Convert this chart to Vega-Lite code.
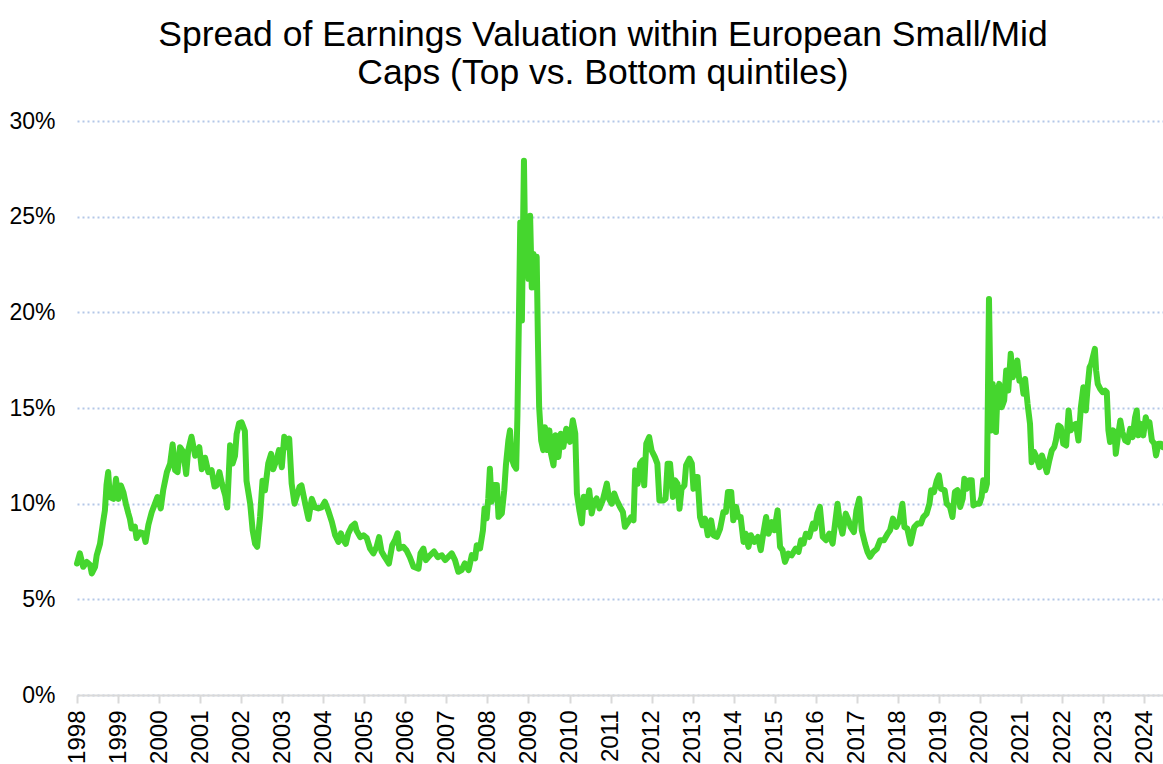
{
  "$schema": "https://vega.github.io/schema/vega-lite/v6.json",
  "width": 1086,
  "height": 574,
  "autosize": "none",
  "padding": {"left": 77, "top": 121, "right": 0, "bottom": 69},
  "background": "white",
  "title": {
    "text": ["Spread of Earnings Valuation within European Small/Mid", "Caps (Top vs. Bottom quintiles)"],
    "font": "Liberation Sans",
    "fontSize": 35.5,
    "fontWeight": "normal",
    "color": "#000000",
    "lineHeight": 38,
    "anchor": "middle",
    "dx": -17,
    "offset": 19
  },
  "data": {
    "values": [
      {"year": 1998.00, "spread": 6.87}, {"year": 1998.07, "spread": 7.4}, {"year": 1998.15, "spread": 6.7}, {"year": 1998.24, "spread": 6.95},
      {"year": 1998.32, "spread": 6.8}, {"year": 1998.36, "spread": 6.35}, {"year": 1998.44, "spread": 6.7}, {"year": 1998.48, "spread": 7.3},
      {"year": 1998.56, "spread": 7.9}, {"year": 1998.64, "spread": 9.1}, {"year": 1998.68, "spread": 9.65}, {"year": 1998.72, "spread": 11.0},
      {"year": 1998.76, "spread": 11.65}, {"year": 1998.80, "spread": 10.35}, {"year": 1998.89, "spread": 10.25}, {"year": 1998.95, "spread": 11.3},
      {"year": 1999.01, "spread": 10.25}, {"year": 1999.07, "spread": 10.95}, {"year": 1999.13, "spread": 10.6}, {"year": 1999.19, "spread": 10.0},
      {"year": 1999.25, "spread": 9.5}, {"year": 1999.29, "spread": 9.2}, {"year": 1999.33, "spread": 8.7}, {"year": 1999.41, "spread": 8.8},
      {"year": 1999.45, "spread": 8.2}, {"year": 1999.54, "spread": 8.5}, {"year": 1999.62, "spread": 8.45}, {"year": 1999.67, "spread": 8.0},
      {"year": 1999.74, "spread": 8.9}, {"year": 1999.82, "spread": 9.55}, {"year": 1999.90, "spread": 10.0}, {"year": 1999.96, "spread": 10.35},
      {"year": 2000.04, "spread": 9.75}, {"year": 2000.10, "spread": 10.7}, {"year": 2000.19, "spread": 11.65}, {"year": 2000.27, "spread": 12.1},
      {"year": 2000.33, "spread": 13.1}, {"year": 2000.39, "spread": 11.75}, {"year": 2000.45, "spread": 11.65}, {"year": 2000.51, "spread": 12.95},
      {"year": 2000.59, "spread": 12.7}, {"year": 2000.66, "spread": 11.55}, {"year": 2000.71, "spread": 12.8}, {"year": 2000.79, "spread": 13.5},
      {"year": 2000.88, "spread": 12.5}, {"year": 2000.98, "spread": 12.95}, {"year": 2001.04, "spread": 11.8}, {"year": 2001.12, "spread": 12.4},
      {"year": 2001.20, "spread": 11.65}, {"year": 2001.28, "spread": 11.75}, {"year": 2001.35, "spread": 10.9}, {"year": 2001.40, "spread": 10.95},
      {"year": 2001.47, "spread": 11.65}, {"year": 2001.53, "spread": 11.05}, {"year": 2001.61, "spread": 10.45}, {"year": 2001.66, "spread": 9.8},
      {"year": 2001.73, "spread": 13.05}, {"year": 2001.79, "spread": 12.1}, {"year": 2001.85, "spread": 12.5}, {"year": 2001.89, "spread": 13.65},
      {"year": 2001.95, "spread": 14.2}, {"year": 2002.01, "spread": 14.25}, {"year": 2002.09, "spread": 13.8}, {"year": 2002.13, "spread": 11.2},
      {"year": 2002.22, "spread": 10.0}, {"year": 2002.28, "spread": 8.6}, {"year": 2002.34, "spread": 7.9}, {"year": 2002.39, "spread": 7.75},
      {"year": 2002.46, "spread": 9.3}, {"year": 2002.52, "spread": 11.2}, {"year": 2002.58, "spread": 10.7}, {"year": 2002.66, "spread": 12.1},
      {"year": 2002.73, "spread": 12.6}, {"year": 2002.78, "spread": 11.8}, {"year": 2002.87, "spread": 12.35}, {"year": 2002.92, "spread": 12.8},
      {"year": 2002.99, "spread": 11.9}, {"year": 2003.05, "spread": 13.5}, {"year": 2003.11, "spread": 12.95}, {"year": 2003.17, "spread": 13.4},
      {"year": 2003.23, "spread": 11.05}, {"year": 2003.30, "spread": 10.0}, {"year": 2003.35, "spread": 10.35}, {"year": 2003.42, "spread": 10.87},
      {"year": 2003.47, "spread": 10.95}, {"year": 2003.56, "spread": 10.0}, {"year": 2003.64, "spread": 9.2}, {"year": 2003.72, "spread": 10.25},
      {"year": 2003.80, "spread": 9.8}, {"year": 2003.88, "spread": 9.75}, {"year": 2003.96, "spread": 9.8}, {"year": 2004.04, "spread": 10.1},
      {"year": 2004.12, "spread": 9.65}, {"year": 2004.21, "spread": 9.05}, {"year": 2004.29, "spread": 8.35}, {"year": 2004.37, "spread": 8.0},
      {"year": 2004.43, "spread": 8.45}, {"year": 2004.49, "spread": 8.1}, {"year": 2004.55, "spread": 7.9}, {"year": 2004.61, "spread": 8.45},
      {"year": 2004.69, "spread": 8.8}, {"year": 2004.77, "spread": 8.95}, {"year": 2004.81, "spread": 8.6}, {"year": 2004.90, "spread": 8.25},
      {"year": 2004.98, "spread": 8.35}, {"year": 2005.06, "spread": 8.2}, {"year": 2005.14, "spread": 7.65}, {"year": 2005.22, "spread": 7.4},
      {"year": 2005.30, "spread": 7.75}, {"year": 2005.36, "spread": 8.25}, {"year": 2005.42, "spread": 7.5}, {"year": 2005.50, "spread": 7.2},
      {"year": 2005.60, "spread": 6.87}, {"year": 2005.68, "spread": 7.83}, {"year": 2005.75, "spread": 8.1}, {"year": 2005.81, "spread": 8.45},
      {"year": 2005.85, "spread": 7.65}, {"year": 2005.95, "spread": 7.75}, {"year": 2006.03, "spread": 7.55}, {"year": 2006.11, "spread": 7.2},
      {"year": 2006.20, "spread": 6.7}, {"year": 2006.32, "spread": 6.6}, {"year": 2006.37, "spread": 7.4}, {"year": 2006.44, "spread": 7.65},
      {"year": 2006.50, "spread": 7.05}, {"year": 2006.60, "spread": 7.3}, {"year": 2006.70, "spread": 7.5}, {"year": 2006.79, "spread": 7.2},
      {"year": 2006.89, "spread": 7.3}, {"year": 2006.97, "spread": 7.05}, {"year": 2007.13, "spread": 7.4}, {"year": 2007.21, "spread": 7.05},
      {"year": 2007.29, "spread": 6.44}, {"year": 2007.37, "spread": 6.53}, {"year": 2007.45, "spread": 6.88}, {"year": 2007.54, "spread": 6.53},
      {"year": 2007.62, "spread": 7.31}, {"year": 2007.70, "spread": 7.14}, {"year": 2007.74, "spread": 7.83}, {"year": 2007.82, "spread": 7.66},
      {"year": 2007.89, "spread": 8.6}, {"year": 2007.93, "spread": 9.75}, {"year": 2007.98, "spread": 9.23}, {"year": 2008.02, "spread": 10.27},
      {"year": 2008.06, "spread": 11.83}, {"year": 2008.10, "spread": 10.1}, {"year": 2008.16, "spread": 10.97}, {"year": 2008.23, "spread": 10.97},
      {"year": 2008.27, "spread": 9.31}, {"year": 2008.35, "spread": 9.49}, {"year": 2008.41, "spread": 10.7}, {"year": 2008.45, "spread": 12.0},
      {"year": 2008.51, "spread": 13.3}, {"year": 2008.55, "spread": 13.83}, {"year": 2008.59, "spread": 12.36}, {"year": 2008.65, "spread": 12.0},
      {"year": 2008.70, "spread": 11.83}, {"year": 2008.73, "spread": 14.53}, {"year": 2008.77, "spread": 20.1}, {"year": 2008.80, "spread": 24.7},
      {"year": 2008.84, "spread": 19.57}, {"year": 2008.87, "spread": 24.8}, {"year": 2008.89, "spread": 27.92}, {"year": 2008.92, "spread": 23.2},
      {"year": 2008.97, "spread": 24.6}, {"year": 2009.00, "spread": 21.75}, {"year": 2009.04, "spread": 25.05}, {"year": 2009.08, "spread": 21.3},
      {"year": 2009.12, "spread": 23.05}, {"year": 2009.16, "spread": 21.3}, {"year": 2009.20, "spread": 22.9}, {"year": 2009.23, "spread": 18.5},
      {"year": 2009.26, "spread": 15.05}, {"year": 2009.31, "spread": 13.3}, {"year": 2009.36, "spread": 12.8}, {"year": 2009.40, "spread": 14.0},
      {"year": 2009.46, "spread": 12.8}, {"year": 2009.51, "spread": 13.83}, {"year": 2009.55, "spread": 12.6}, {"year": 2009.61, "spread": 12.0},
      {"year": 2009.66, "spread": 13.57}, {"year": 2009.73, "spread": 12.44}, {"year": 2009.79, "spread": 13.66}, {"year": 2009.85, "spread": 12.97},
      {"year": 2009.92, "spread": 13.92}, {"year": 2009.97, "spread": 13.75}, {"year": 2010.01, "spread": 13.23}, {"year": 2010.08, "spread": 14.36},
      {"year": 2010.14, "spread": 13.66}, {"year": 2010.18, "spread": 10.53}, {"year": 2010.24, "spread": 9.66}, {"year": 2010.30, "spread": 8.97},
      {"year": 2010.35, "spread": 10.36}, {"year": 2010.42, "spread": 9.83}, {"year": 2010.48, "spread": 10.7}, {"year": 2010.54, "spread": 9.49},
      {"year": 2010.60, "spread": 10.1}, {"year": 2010.66, "spread": 10.27}, {"year": 2010.73, "spread": 9.75}, {"year": 2010.81, "spread": 10.18},
      {"year": 2010.87, "spread": 10.7}, {"year": 2010.91, "spread": 11.05}, {"year": 2010.96, "spread": 10.27}, {"year": 2011.03, "spread": 10.0},
      {"year": 2011.09, "spread": 10.53}, {"year": 2011.15, "spread": 10.18}, {"year": 2011.23, "spread": 9.83}, {"year": 2011.30, "spread": 9.57},
      {"year": 2011.35, "spread": 8.79}, {"year": 2011.43, "spread": 9.05}, {"year": 2011.50, "spread": 9.3}, {"year": 2011.56, "spread": 9.13},
      {"year": 2011.60, "spread": 11.74}, {"year": 2011.66, "spread": 11.04}, {"year": 2011.72, "spread": 12.09}, {"year": 2011.78, "spread": 12.26},
      {"year": 2011.82, "spread": 10.96}, {"year": 2011.87, "spread": 13.13}, {"year": 2011.94, "spread": 13.48}, {"year": 2012.00, "spread": 12.78},
      {"year": 2012.08, "spread": 12.43}, {"year": 2012.14, "spread": 12.09}, {"year": 2012.19, "spread": 10.17}, {"year": 2012.29, "spread": 10.17},
      {"year": 2012.34, "spread": 10.26}, {"year": 2012.39, "spread": 12.09}, {"year": 2012.45, "spread": 12.09}, {"year": 2012.52, "spread": 10.35},
      {"year": 2012.57, "spread": 11.22}, {"year": 2012.63, "spread": 11.04}, {"year": 2012.68, "spread": 9.74}, {"year": 2012.73, "spread": 10.78},
      {"year": 2012.80, "spread": 10.96}, {"year": 2012.84, "spread": 12.0}, {"year": 2012.92, "spread": 12.35}, {"year": 2012.98, "spread": 12.09},
      {"year": 2013.02, "spread": 10.78}, {"year": 2013.08, "spread": 11.39}, {"year": 2013.12, "spread": 11.39}, {"year": 2013.18, "spread": 9.3},
      {"year": 2013.24, "spread": 8.87}, {"year": 2013.30, "spread": 9.22}, {"year": 2013.37, "spread": 8.35}, {"year": 2013.45, "spread": 9.13},
      {"year": 2013.51, "spread": 8.35}, {"year": 2013.59, "spread": 8.26}, {"year": 2013.67, "spread": 8.7}, {"year": 2013.75, "spread": 9.57},
      {"year": 2013.81, "spread": 9.57}, {"year": 2013.86, "spread": 10.61}, {"year": 2013.94, "spread": 10.61}, {"year": 2013.99, "spread": 9.13},
      {"year": 2014.06, "spread": 9.83}, {"year": 2014.11, "spread": 9.3}, {"year": 2014.17, "spread": 9.3}, {"year": 2014.24, "spread": 8.0},
      {"year": 2014.29, "spread": 8.43}, {"year": 2014.36, "spread": 7.74}, {"year": 2014.42, "spread": 8.35}, {"year": 2014.50, "spread": 8.0},
      {"year": 2014.59, "spread": 8.26}, {"year": 2014.66, "spread": 7.57}, {"year": 2014.72, "spread": 8.43}, {"year": 2014.79, "spread": 9.3},
      {"year": 2014.85, "spread": 8.43}, {"year": 2014.93, "spread": 9.04}, {"year": 2014.99, "spread": 8.61}, {"year": 2015.07, "spread": 9.65},
      {"year": 2015.13, "spread": 7.74}, {"year": 2015.19, "spread": 7.57}, {"year": 2015.25, "spread": 6.96}, {"year": 2015.33, "spread": 7.39},
      {"year": 2015.41, "spread": 7.3}, {"year": 2015.51, "spread": 7.65}, {"year": 2015.58, "spread": 7.48}, {"year": 2015.64, "spread": 8.09},
      {"year": 2015.70, "spread": 7.91}, {"year": 2015.76, "spread": 8.43}, {"year": 2015.84, "spread": 8.26}, {"year": 2015.93, "spread": 8.96},
      {"year": 2015.98, "spread": 8.7}, {"year": 2016.04, "spread": 9.48}, {"year": 2016.10, "spread": 9.83}, {"year": 2016.17, "spread": 8.26},
      {"year": 2016.25, "spread": 8.09}, {"year": 2016.33, "spread": 8.43}, {"year": 2016.41, "spread": 7.91}, {"year": 2016.47, "spread": 8.96},
      {"year": 2016.53, "spread": 10.0}, {"year": 2016.59, "spread": 8.96}, {"year": 2016.65, "spread": 8.43}, {"year": 2016.73, "spread": 9.48},
      {"year": 2016.80, "spread": 9.13}, {"year": 2016.85, "spread": 8.78}, {"year": 2016.93, "spread": 8.52}, {"year": 2016.99, "spread": 9.65},
      {"year": 2017.06, "spread": 10.26}, {"year": 2017.12, "spread": 8.61}, {"year": 2017.20, "spread": 7.91}, {"year": 2017.26, "spread": 7.48},
      {"year": 2017.32, "spread": 7.22}, {"year": 2017.40, "spread": 7.48}, {"year": 2017.49, "spread": 7.65}, {"year": 2017.57, "spread": 8.09},
      {"year": 2017.66, "spread": 8.09}, {"year": 2017.75, "spread": 8.43}, {"year": 2017.81, "spread": 8.61}, {"year": 2017.88, "spread": 9.22},
      {"year": 2017.96, "spread": 8.78}, {"year": 2018.04, "spread": 9.13}, {"year": 2018.11, "spread": 10.0}, {"year": 2018.16, "spread": 8.78},
      {"year": 2018.23, "spread": 8.7}, {"year": 2018.31, "spread": 7.91}, {"year": 2018.40, "spread": 8.78}, {"year": 2018.48, "spread": 8.96},
      {"year": 2018.56, "spread": 8.96}, {"year": 2018.62, "spread": 9.3}, {"year": 2018.70, "spread": 9.48}, {"year": 2018.77, "spread": 10.0},
      {"year": 2018.81, "spread": 10.7}, {"year": 2018.88, "spread": 10.61}, {"year": 2018.95, "spread": 11.22}, {"year": 2019.00, "spread": 11.48},
      {"year": 2019.05, "spread": 10.78}, {"year": 2019.14, "spread": 10.7}, {"year": 2019.19, "spread": 10.0}, {"year": 2019.27, "spread": 9.83},
      {"year": 2019.33, "spread": 9.3}, {"year": 2019.39, "spread": 10.61}, {"year": 2019.45, "spread": 10.7}, {"year": 2019.52, "spread": 9.83},
      {"year": 2019.58, "spread": 10.26}, {"year": 2019.62, "spread": 11.3}, {"year": 2019.68, "spread": 10.78}, {"year": 2019.74, "spread": 11.22},
      {"year": 2019.80, "spread": 11.22}, {"year": 2019.84, "spread": 9.91}, {"year": 2019.92, "spread": 10.0}, {"year": 2019.99, "spread": 10.0},
      {"year": 2020.04, "spread": 10.35}, {"year": 2020.08, "spread": 11.22}, {"year": 2020.13, "spread": 10.7}, {"year": 2020.17, "spread": 11.04},
      {"year": 2020.22, "spread": 20.7}, {"year": 2020.27, "spread": 13.83}, {"year": 2020.31, "spread": 16.26}, {"year": 2020.34, "spread": 15.04},
      {"year": 2020.39, "spread": 13.74}, {"year": 2020.43, "spread": 15.91}, {"year": 2020.47, "spread": 16.26}, {"year": 2020.53, "spread": 15.04},
      {"year": 2020.59, "spread": 15.39}, {"year": 2020.64, "spread": 16.96}, {"year": 2020.69, "spread": 15.91}, {"year": 2020.75, "spread": 17.83},
      {"year": 2020.80, "spread": 16.61}, {"year": 2020.86, "spread": 16.96}, {"year": 2020.91, "spread": 17.48}, {"year": 2020.96, "spread": 16.43},
      {"year": 2021.02, "spread": 16.43}, {"year": 2021.06, "spread": 15.74}, {"year": 2021.10, "spread": 16.52}, {"year": 2021.16, "spread": 15.22},
      {"year": 2021.22, "spread": 14.17}, {"year": 2021.26, "spread": 12.17}, {"year": 2021.32, "spread": 12.7}, {"year": 2021.38, "spread": 12.43},
      {"year": 2021.45, "spread": 11.91}, {"year": 2021.51, "spread": 12.52}, {"year": 2021.57, "spread": 12.09}, {"year": 2021.63, "spread": 11.65},
      {"year": 2021.69, "spread": 12.26}, {"year": 2021.75, "spread": 12.78}, {"year": 2021.81, "spread": 12.96}, {"year": 2021.85, "spread": 13.3},
      {"year": 2021.91, "spread": 14.09}, {"year": 2021.97, "spread": 14.0}, {"year": 2022.03, "spread": 13.13}, {"year": 2022.10, "spread": 13.04},
      {"year": 2022.16, "spread": 14.87}, {"year": 2022.21, "spread": 13.83}, {"year": 2022.28, "spread": 14.09}, {"year": 2022.34, "spread": 14.17},
      {"year": 2022.40, "spread": 13.3}, {"year": 2022.46, "spread": 15.04}, {"year": 2022.52, "spread": 16.09}, {"year": 2022.58, "spread": 14.87},
      {"year": 2022.63, "spread": 16.26}, {"year": 2022.67, "spread": 17.13}, {"year": 2022.71, "spread": 17.3}, {"year": 2022.75, "spread": 17.65},
      {"year": 2022.80, "spread": 18.09}, {"year": 2022.83, "spread": 16.96}, {"year": 2022.87, "spread": 16.26}, {"year": 2022.93, "spread": 16.0},
      {"year": 2022.99, "spread": 15.83}, {"year": 2023.05, "spread": 15.91}, {"year": 2023.09, "spread": 15.83}, {"year": 2023.13, "spread": 13.83},
      {"year": 2023.17, "spread": 13.22}, {"year": 2023.24, "spread": 13.83}, {"year": 2023.28, "spread": 13.74}, {"year": 2023.31, "spread": 12.61},
      {"year": 2023.36, "spread": 13.48}, {"year": 2023.42, "spread": 14.35}, {"year": 2023.47, "spread": 13.74}, {"year": 2023.54, "spread": 13.3},
      {"year": 2023.60, "spread": 13.22}, {"year": 2023.66, "spread": 13.91}, {"year": 2023.72, "spread": 13.48}, {"year": 2023.78, "spread": 14.52},
      {"year": 2023.82, "spread": 14.87}, {"year": 2023.86, "spread": 13.57}, {"year": 2023.92, "spread": 14.17}, {"year": 2023.98, "spread": 13.57},
      {"year": 2024.04, "spread": 14.52}, {"year": 2024.09, "spread": 14.09}, {"year": 2024.13, "spread": 14.26}, {"year": 2024.19, "spread": 13.3},
      {"year": 2024.25, "spread": 13.13}, {"year": 2024.29, "spread": 12.52}, {"year": 2024.35, "spread": 13.13}, {"year": 2024.41, "spread": 13.13},
      {"year": 2024.46, "spread": 12.96}
    ]
  },
  "mark": {"type": "line", "color": "#45d62e", "strokeWidth": 6, "strokeJoin": "round", "strokeCap": "round"},
  "encoding": {
    "x": {
      "field": "year",
      "type": "quantitative",
      "scale": {"domain": [1998, 2024.46], "nice": false, "zero": false},
      "axis": {
        "title": null,
        "values": [1998, 1999, 2000, 2001, 2002, 2003, 2004, 2005, 2006, 2007, 2008, 2009, 2010, 2011, 2012, 2013, 2014, 2015, 2016, 2017, 2018, 2019, 2020, 2021, 2022, 2023, 2024],
        "format": "d",
        "grid": false,
        "labelAngle": -90,
        "labelAlign": "right",
        "labelBaseline": "middle",
        "labelFont": "Liberation Sans",
        "labelFontSize": 24,
        "labelColor": "#000000",
        "labelPadding": 7,
        "labelOverlap": false,
        "labelFlush": false,
        "labelBound": false,
        "tickColor": "#d9d9d9",
        "tickSize": 8,
        "tickWidth": 2,
        "domainColor": "#d9d9d9",
        "domainWidth": 2
      }
    },
    "y": {
      "field": "spread",
      "type": "quantitative",
      "scale": {"domain": [0, 30], "nice": false},
      "axis": {
        "title": null,
        "values": [0, 5, 10, 15, 20, 25, 30],
        "labelExpr": "datum.value + '%'",
        "labelFont": "Liberation Sans",
        "labelFontSize": 23,
        "labelColor": "#000000",
        "labelPadding": 22,
        "domain": false,
        "ticks": false,
        "grid": true,
        "gridColor": "#b4c7e7",
        "gridDash": [2, 3],
        "gridWidth": 2
      }
    }
  },
  "config": {"view": {"stroke": null}}
}
